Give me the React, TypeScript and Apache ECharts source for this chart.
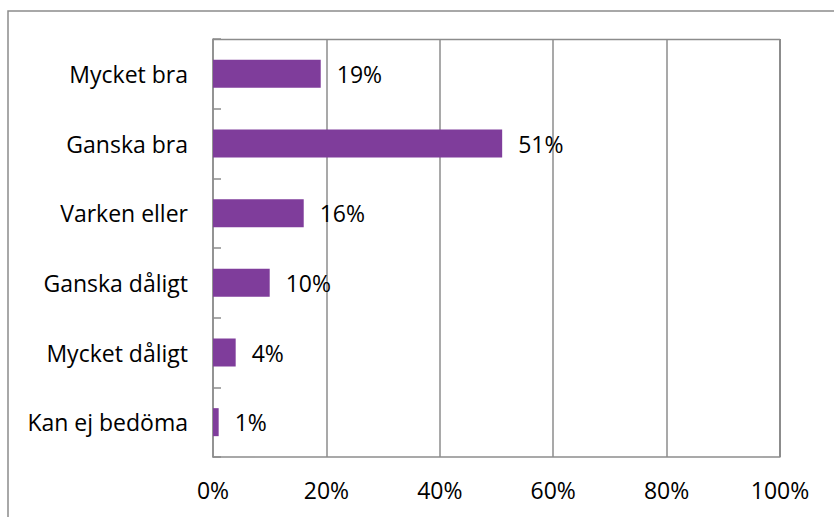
import React, { useEffect, useRef } from "react";
import * as echarts from "echarts";

const categories = ["Kan ej bedöma", "Mycket dåligt", "Ganska dåligt", "Varken eller", "Ganska bra", "Mycket bra"];
const values = [1, 4, 10, 16, 51, 19];
const xTicks = [0, 20, 40, 60, 80, 100];

const FONT = "Open Sans";
const GRAY = "#8c8c8c";
const FS = 23;

export default function App() {
  const ref = useRef<HTMLDivElement>(null);
  useEffect(() => {
    if (!ref.current) return;
    const chart = echarts.init(ref.current, null, { renderer: "svg" });
    chart.setOption({
      animation: false,
      backgroundColor: "#ffffff",
      textStyle: { fontFamily: FONT },
      graphic: [
        {
          type: "rect",
          shape: { x: 8, y: 11, width: 1000, height: 800 },
          style: { fill: "none", stroke: GRAY, lineWidth: 1.5 },
          silent: true,
          z: -1,
        },
        {
          type: "line",
          shape: { x1: 780, y1: 39, x2: 780, y2: 457 },
          style: { stroke: GRAY, lineWidth: 2 },
          silent: true,
        },
        {
          type: "line",
          shape: { x1: 213, y1: 39.5, x2: 780, y2: 39.5 },
          style: { stroke: GRAY, lineWidth: 1.5 },
          silent: true,
        },
      ],
      grid: { left: 213, right: 54, top: 39, bottom: 60, containLabel: false },
      xAxis: {
        type: "value",
        min: xTicks[0],
        max: xTicks[xTicks.length - 1],
        interval: 20,
        axisLine: { show: true, lineStyle: { color: GRAY, width: 1.5 } },
        axisTick: { show: false },
        splitLine: { show: true, lineStyle: { color: GRAY, width: 1.5 } },
        axisLabel: {
          formatter: (v: number) => v + "%",
          color: "#000",
          fontSize: FS,
          fontFamily: FONT,
          margin: 21,
        },
      },
      yAxis: {
        type: "category",
        data: categories,
        axisLine: { show: true, lineStyle: { color: GRAY, width: 1.5 } },
        axisTick: { show: true, inside: true, length: 8, lineStyle: { color: GRAY, width: 1.5 } },
        axisLabel: { color: "#000", fontSize: FS, fontFamily: FONT, margin: 25 },
      },
      series: [
        {
          type: "bar",
          data: values,
          barWidth: 28,
          itemStyle: { color: "#7f3d9b" },
          label: {
            show: true,
            position: "right",
            distance: 16,
            formatter: (p: any) => p.value + "%",
            color: "#000",
            fontSize: FS,
            fontFamily: FONT,
          },
        },
      ],
    });
    return () => chart.dispose();
  }, []);
  return (
    <div
      ref={ref}
      style={{ position: "fixed", left: 0, top: 0, width: 834, height: 517, background: "#fff" }}
    />
  );
}
